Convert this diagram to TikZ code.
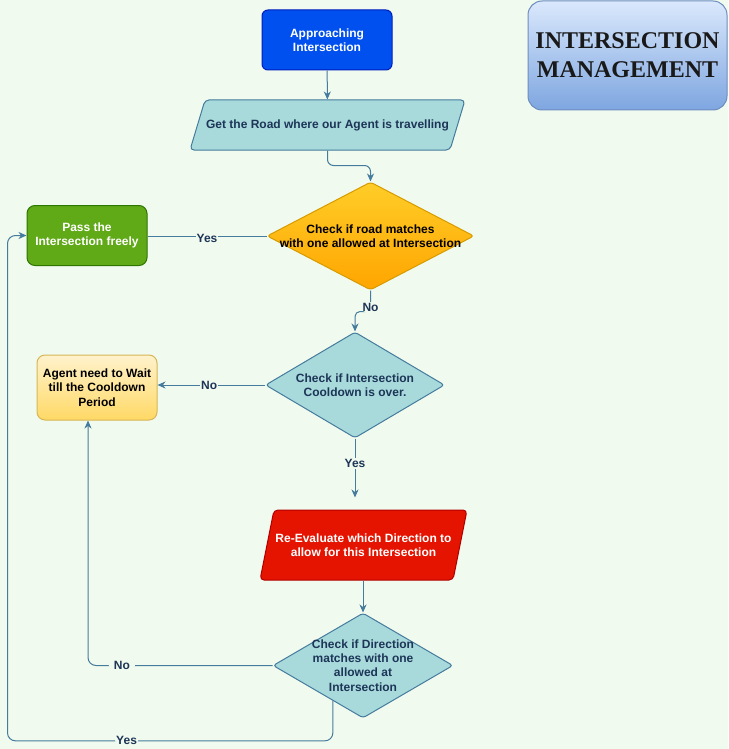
\documentclass[tikz,border=0pt]{standalone}
\usepackage{fontspec}
\setmainfont{Liberation Sans}
\newfontfamily\titlefont{Liberation Serif}
\usetikzlibrary{shapes.geometric,arrows.meta,calc}
\definecolor{bg}{HTML}{F1FAEE}
\definecolor{cline}{HTML}{457B9D}
\definecolor{dark}{HTML}{1D3557}
\definecolor{tealF}{HTML}{A8DADC}
\definecolor{blueF}{HTML}{0050EF}
\definecolor{blueS}{HTML}{001DBC}
\definecolor{greenF}{HTML}{60A917}
\definecolor{greenS}{HTML}{2D7600}
\definecolor{redF}{HTML}{E51400}
\definecolor{redS}{HTML}{B20000}
\definecolor{orangeT}{HTML}{FFCD28}
\definecolor{orangeB}{HTML}{FFA500}
\definecolor{orangeS}{HTML}{D79B00}
\definecolor{waitT}{HTML}{FFF2CC}
\definecolor{waitB}{HTML}{FFD966}
\definecolor{waitS}{HTML}{D6B656}
\definecolor{titleT}{HTML}{DAE8FC}
\definecolor{titleB}{HTML}{7EA6E0}
\definecolor{titleS}{HTML}{6C8EBF}
\tikzset{
  txt/.style={font=\fontsize{12}{14.4}\selectfont\bfseries, align=center},
  shapebox/.style={txt, line width=1pt, inner sep=0pt},
  diam/.style={diamond, line width=1pt, inner sep=1pt, rounded corners=3pt},
  parashape/.style={line width=1pt, rounded corners=4pt},
  conn/.style={draw=cline, line width=1pt, -{Stealth[length=8pt,width=7pt,inset=2.5pt]}},
  plainconn/.style={draw=cline, line width=1pt},
  lbl/.style={txt, fill=bg, text=dark, inner sep=1pt},
}
\begin{document}
\begin{tikzpicture}[x=1pt,y=-1pt]
\useasboundingbox (0,0) rectangle (728,749);
\fill[bg] (0,0) rectangle (728,749);

% title
\node[shapebox, draw=titleS, top color=titleT, bottom color=titleB, rounded corners=14pt,
      minimum width=199pt, minimum height=109pt,
      font=\titlefont\fontsize{24}{29}\selectfont\bfseries, text=black!90] (title) at (627.5,55.5)
      {INTERSECTION\\MANAGEMENT};

% nodes
\node[shapebox, draw=blueS, fill=blueF, text=white, rounded corners=6pt,
      minimum width=130pt, minimum height=60pt] (start) at (327,40) {Approaching\\Intersection};

% parallelogram: road
\coordinate (roadc) at (327.5,125);
\filldraw[parashape, draw=cline, fill=tealF]
  ($(roadc)+(-122.5,-25)$) -- ($(roadc)+(137.5,-25)$) -- ($(roadc)+(122.5,25)$) -- ($(roadc)+(-137.5,25)$) -- cycle;
\node[shapebox, text=dark, minimum width=245pt, minimum height=50pt] (road) at (roadc)
      {Get the Road where our Agent is travelling};

\node[diam, draw=orangeS, top color=orangeT, bottom color=orangeB,
      minimum width=207pt, minimum height=108pt,
      label={[txt,text=black]center:{Check if road matches\\with one allowed at Intersection}}] (d1) at (370.5,236) {};

\node[shapebox, draw=greenS, fill=greenF, text=white, rounded corners=8pt,
      minimum width=120pt, minimum height=60pt] (pass) at (87,235.5) {Pass the\\Intersection freely};

\node[diam, draw=cline, fill=tealF, minimum width=179pt, minimum height=106pt,
      label={[txt,text=dark]center:{Check if Intersection\\Cooldown is over.}}] (d2) at (355,385) {};

\node[shapebox, draw=waitS, top color=waitT, bottom color=waitB, text=black, rounded corners=8pt,
      minimum width=120pt, minimum height=65pt] (wait) at (97,387.5) {Agent need to Wait\\till the Cooldown\\Period};

% parallelogram: re-evaluate
\coordinate (redc) at (363.5,545);
\filldraw[parashape, draw=redS, fill=redF]
  ($(redc)+(-89.5,-35)$) -- ($(redc)+(103.5,-35)$) -- ($(redc)+(89.5,35)$) -- ($(redc)+(-103.5,35)$) -- cycle;
\node[shapebox, text=white, minimum width=190pt, minimum height=70pt] (red) at (redc)
      {Re-Evaluate which Direction to\\allow for this Intersection};

\node[diam, draw=cline, fill=tealF, minimum width=180pt, minimum height=105pt,
      label={[txt,text=dark]center:{Check if Direction\\matches with one\\allowed at\\Intersection}}] (d3) at (363,665.5) {};

% connectors
\draw[conn] (start) -- (road);
\draw[conn, rounded corners=6pt] (road.south) -- ++(0,15) -| (d1.north);
\draw[plainconn] (d1.west) -- node[lbl, pos=0.5, yshift=-2pt]{Yes} (d1.west -| pass.east);
\draw[conn, rounded corners=5pt] (d1.south) -- node[lbl, pos=0.8]{No} ++(0,21) -| (d2.north);
\draw[conn] (d2.west) -- node[lbl, pos=0.52]{No} (wait.east |- d2.west);
\draw[conn, shorten >=12pt] (d2.south) -- node[lbl, pos=0.35]{Yes} (d2.south |- red.north);
\draw[conn] (red.south -| d3.north) -- (d3.north);
\draw[conn, rounded corners=8pt] (d3.west) -| node[lbl, pos=0.408, inner xsep=5pt]{No} ([xshift=-9pt]wait.south);
\draw[conn, rounded corners=8pt] ($(d3.south)!0.333!(d3.west)$) -- ++(0,40)
      -| node[lbl, pos=0.317]{Yes} ([xshift=-19pt]pass.west) -- (pass.west);
\end{tikzpicture}
\end{document}
